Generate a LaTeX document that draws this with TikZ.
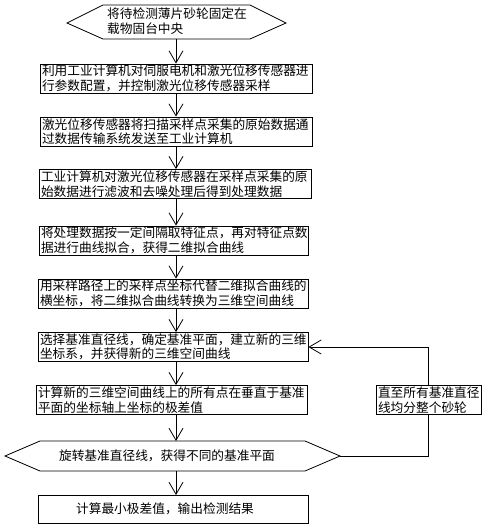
\documentclass[tikz,border=0pt]{standalone}
\usepackage{fontspec}
\setmainfont{Noto Sans CJK SC}
\usetikzlibrary{arrows.meta}
\begin{document}
\begin{tikzpicture}[x=1pt,y=-1pt,
  line width=0.8pt,
  every node/.style={font=\fontsize{12.7}{14.5}\selectfont},
  stepbox/.style={draw, align=left, inner xsep=2pt, inner ysep=0.5pt, minimum height=29pt, anchor=center},
  plain/.style={align=left, inner sep=0pt},
  arr/.style={-{Straight Barb[length=12pt,width=14pt]}}
]
\useasboundingbox (0,0) rectangle (485,530);
\coordinate (ax) at (176,0);
% top hexagon
\draw (67,23) -- (103,5) -- (250,5) -- (286,23) -- (250,39) -- (103,39) -- cycle;
\node[plain] (t1) at (177,21) {将待检测薄片砂轮固定在\\载物固台中央};
\coordinate (t1b) at (176,39);
% boxes
\node[stepbox, text width=268pt] (b2) at (176,78.5) {利用工业计算机对伺服电机和激光位移传感器进\\行参数配置，并控制激光位移传感器采样};
\node[stepbox, text width=268pt] (b3) at (176,131.5) {激光位移传感器将扫描采样点采集的原始数据通\\过数据传输系统发送至工业计算机};
\node[stepbox, text width=268pt] (b4) at (175,184) {工业计算机对激光位移传感器在采样点采集的原\\始数据进行滤波和去噪处理后得到处理数据};
\node[stepbox, text width=265pt] (b5) at (173.5,240.5) {将处理数据按一定间隔取特征点，再对特征点数\\据进行曲线拟合，获得二维拟合曲线};
\node[stepbox, text width=266pt] (b6) at (173,293.5) {用采样路径上的采样点坐标代替二维拟合曲线的\\横坐标，将二维拟合曲线转换为三维空间曲线};
\node[stepbox, text width=266pt] (b7) at (173,347) {选择基准直径线，确定基准平面，建立新的三维\\坐标系，并获得新的三维空间曲线};
\node[stepbox, text width=267pt] (b8) at (171.5,400) {计算新的三维空间曲线上的所有点在垂直于基准\\平面的坐标轴上坐标的极差值};
\node[stepbox, text width=101pt] (r) at (428.5,400) {直至所有基准直径\\线均分整个砂轮};
% bottom hexagon
\draw (5,456) -- (40,441) -- (305,441) -- (340,456) -- (305,471) -- (40,471) -- cycle;
\node[plain] (h2) at (167,456) {旋转基准直径线，获得不同的基准平面};
\coordinate (h2t) at (176,441);
\coordinate (h2b) at (176,471);
\coordinate (h2r) at (340,456);
% last box
\draw (38,495) rectangle (308,523);
\node[plain] (b9) at (165,509) {计算最小极差值，输出检测结果};
\coordinate (b9t) at (176,495);
% arrows
\draw[arr] (t1b) -- (b2.north -| ax);
\draw[arr] (b2.south -| ax) -- (b3.north -| ax);
\draw[arr] (b3.south -| ax) -- (b4.north -| ax);
\draw[arr] (b4.south -| ax) -- (b5.north -| ax);
\draw[arr] (b5.south -| ax) -- (b6.north -| ax);
\draw[arr] (b6.south -| ax) -- (b7.north -| ax);
\draw[arr] (b7.south -| ax) -- (b8.north -| ax);
\draw[arr] (b8.south -| ax) -- (h2t);
\draw[arr] (h2b) -- (b9t);
% feedback
\draw[arr] (r.north) |- (b7.east);
\draw (r.south) |- (h2r);
\end{tikzpicture}
\end{document}
